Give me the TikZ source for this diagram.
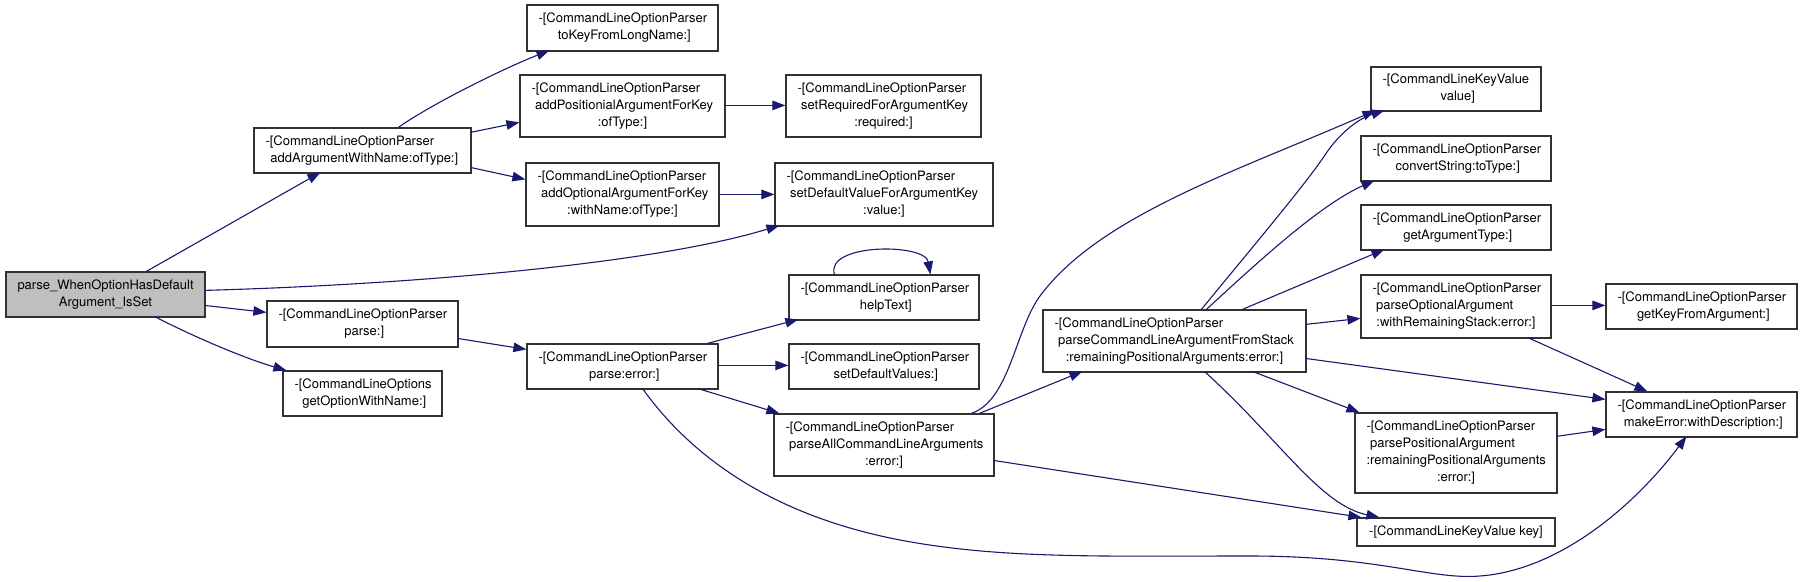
\documentclass[tikz,border=0pt]{standalone}
\usepackage{fontspec}
\setmainfont{TeX Gyre Heros}
\usetikzlibrary{arrows.meta}
\definecolor{edgeblue}{RGB}{25,25,112}
\definecolor{boxline}{RGB}{50,50,50}
\definecolor{rootfill}{RGB}{191,191,191}
\newlength\lw
\newcommand\Ll[1]{\makebox[\lw][l]{#1}}
\newcommand\Lc[1]{\makebox[\lw][c]{#1}}
\newcommand\BX[7][]{%
  \pgfmathsetlength{\lw}{(#5-#3-23)*1pt}%
  \node[box,#1,minimum width={(#5-#3)*1pt},minimum height={(#6-#4)*1pt}] (#2) at ({(#3+#5)/2},{(#4+#6)/2}) {#7};%
}
\tikzset{
  box/.style={draw=boxline, line width=1.2pt, fill=white, inner xsep=11.5pt, inner ysep=0pt,
    align=left, font=\fontsize{13}{17}\selectfont},
  ed/.style={draw=edgeblue, line width=1.1pt, -{Triangle[length=13pt,width=9.5pt]}},
}
\begin{document}
\begin{tikzpicture}[x=1pt,y=-1pt]
\useasboundingbox (0,0) rectangle (1803,581);
\fill[white] (0,0) rectangle (1803,581);

\BX[fill=rootfill]{root}{6}{272}{205}{317}{\Ll{parse\_WhenOptionHasDefault}\\\Lc{Argument\_IsSet}}
\BX{addArg}{254}{128}{471}{173}{\Ll{-[CommandLineOptionParser}\\\Lc{\ addArgumentWithName:ofType:]}}
\BX{parse}{267}{301}{458}{347}{\Ll{-[CommandLineOptionParser}\\\Lc{\ parse:]}}
\BX{getOpt}{283}{371}{442}{416}{\Ll{-[CommandLineOptions}\\\Lc{\ getOptionWithName:]}}
\BX{toKey}{527}{5}{718}{51}{\Ll{-[CommandLineOptionParser}\\\Lc{\ toKeyFromLongName:]}}
\BX{addPos}{520}{75}{725}{137}{\Ll{-[CommandLineOptionParser}\\\Ll{\ addPositionialArgumentForKey}\\\Lc{:ofType:]}}
\BX{setReq}{786}{75}{981}{137}{\Ll{-[CommandLineOptionParser}\\\Ll{\ setRequiredForArgumentKey}\\\Lc{:required:]}}
\BX{addOpt}{526}{163}{719}{226}{\Ll{-[CommandLineOptionParser}\\\Ll{\ addOptionalArgumentForKey}\\\Lc{:withName:ofType:]}}
\BX{setDef}{775}{163}{993}{226}{\Ll{-[CommandLineOptionParser}\\\Ll{\ setDefaultValueForArgumentKey}\\\Lc{:value:]}}
\BX{help}{789}{275}{979}{320}{\Ll{-[CommandLineOptionParser}\\\Lc{\ helpText]}}
\BX{perr}{527}{344}{718}{389}{\Ll{-[CommandLineOptionParser}\\\Lc{\ parse:error:]}}
\BX{setDV}{789}{344}{979}{389}{\Ll{-[CommandLineOptionParser}\\\Lc{\ setDefaultValues:]}}
\BX{pall}{774}{414}{994}{476}{\Ll{-[CommandLineOptionParser}\\\Ll{\ parseAllCommandLineArguments}\\\Lc{:error:]}}
\BX{pcmd}{1043}{310}{1306}{372}{\Ll{-[CommandLineOptionParser}\\\Ll{\ parseCommandLineArgumentFromStack}\\\Lc{:remainingPositionalArguments:error:]}}
\BX{val}{1371}{67}{1541}{111}{\Ll{-[CommandLineKeyValue}\\\Lc{\ value]}}
\BX{conv}{1361}{136}{1551}{181}{\Ll{-[CommandLineOptionParser}\\\Lc{\ convertString:toType:]}}
\BX{gat}{1361}{205}{1551}{250}{\Ll{-[CommandLineOptionParser}\\\Lc{\ getArgumentType:]}}
\BX{popt}{1361}{275}{1551}{338}{\Ll{-[CommandLineOptionParser}\\\Ll{\ parseOptionalArgument}\\\Lc{:withRemainingStack:error:]}}
\BX{ppos}{1355}{413}{1557}{493}{\Ll{-[CommandLineOptionParser}\\\Ll{\ parsePositionalArgument}\\\Ll{:remainingPositionalArguments}\\\Lc{:error:]}}
\BX{key}{1357}{518}{1555}{546}{\Lc{-[CommandLineKeyValue key]}}
\BX{gkey}{1606}{284}{1797}{329}{\Ll{-[CommandLineOptionParser}\\\Lc{\ getKeyFromArgument:]}}
\BX{merr}{1606}{392}{1797}{437}{\Ll{-[CommandLineOptionParser}\\\Lc{\ makeError:withDescription:]}}

% edges
\draw[ed] ([shift={(141,0)}]root.north west) -- ([shift={(67,45)}]addArg.north west);
\draw[ed] ([shift={(199,19)}]root.north west) .. controls (400,285) and (650,265) .. ([shift={(5,63)}]setDef.north west);
\draw[ed] ([shift={(199,34)}]root.north west) -- ([shift={(0,12)}]parse.north west);
\draw[ed] ([shift={(149,45)}]root.north west) .. controls (200,340) and (250,360) .. ([shift={(4,0)}]getOpt.north west);
\draw[ed] ([shift={(145,0)}]addArg.north west) .. controls (430,105) and (500,70) .. ([shift={(23,46)}]toKey.north west);
\draw[ed] ([shift={(217,5)}]addArg.north west) -- ([shift={(0,48)}]addPos.north west);
\draw[ed] ([shift={(217,40)}]addArg.north west) -- ([shift={(0,17)}]addOpt.north west);
\draw[ed] ([shift={(205,31)}]addPos.north west) -- ([shift={(0,31)}]setReq.north west);
\draw[ed] ([shift={(193,32)}]addOpt.north west) -- ([shift={(0,32)}]setDef.north west);
\draw[ed] ([shift={(191,38)}]parse.north west) -- ([shift={(0,6)}]perr.north west);
\draw[ed] ([shift={(181,0)}]perr.north west) -- ([shift={(10,45)}]help.north west);
\draw[ed] ([shift={(46,0)}]help.north west) .. controls (825,243) and (925,243) .. ([shift={(142,0)}]help.north west);
\draw[ed] ([shift={(191,22)}]perr.north west) -- ([shift={(0,22)}]setDV.north west);
\draw[ed] ([shift={(171,45)}]perr.north west) -- ([shift={(6,0)}]pall.north west);
\draw[ed] ([shift={(116,45)}]perr.north west) .. controls (690,455) and (770,515) .. (900,540)
  .. controls (1000,559) and (1100,556) .. (1250,556)
  .. controls (1380,556) and (1430,580) .. (1480,576)
  .. controls (1560,570) and (1635,505) .. ([shift={(81,45)}]merr.north west);
\draw[ed] ([shift={(198,0)}]pall.north west) .. controls (1010,400) and (1015,330) .. (1040,296)
  .. controls (1100,215) and (1240,170) .. ([shift={(5,44)}]val.north west);
\draw[ed] ([shift={(206,0)}]pall.north west) -- ([shift={(40,62)}]pcmd.north west);
\draw[ed] ([shift={(220,47)}]pall.north west) -- ([shift={(5,0)}]key.north west);
\draw[ed] ([shift={(159,0)}]pcmd.north west) .. controls (1250,250) and (1305,185) .. (1325,155)
  .. controls (1340,132) and (1360,118) .. ([shift={(14,44)}]val.north west);
\draw[ed] ([shift={(164,0)}]pcmd.north west) .. controls (1260,260) and (1320,205) .. ([shift={(14,45)}]conv.north west);
\draw[ed] ([shift={(200,0)}]pcmd.north west) -- ([shift={(24,45)}]gat.north west);
\draw[ed] ([shift={(263,15)}]pcmd.north west) -- ([shift={(0,44)}]popt.north west);
\draw[ed] ([shift={(263,49)}]pcmd.north west) -- ([shift={(0,8)}]merr.north west);
\draw[ed] ([shift={(210,62)}]pcmd.north west) -- ([shift={(5,0)}]ppos.north west);
\draw[ed] ([shift={(162,62)}]pcmd.north west) .. controls (1280,440) and (1320,505) .. ([shift={(23,0)}]key.north west);
\draw[ed] ([shift={(190,31)}]popt.north west) -- ([shift={(0,22)}]gkey.north west);
\draw[ed] ([shift={(167,63)}]popt.north west) -- ([shift={(42,0)}]merr.north west);
\draw[ed] ([shift={(202,24)}]ppos.north west) -- ([shift={(0,38)}]merr.north west);
\end{tikzpicture}
\end{document}
